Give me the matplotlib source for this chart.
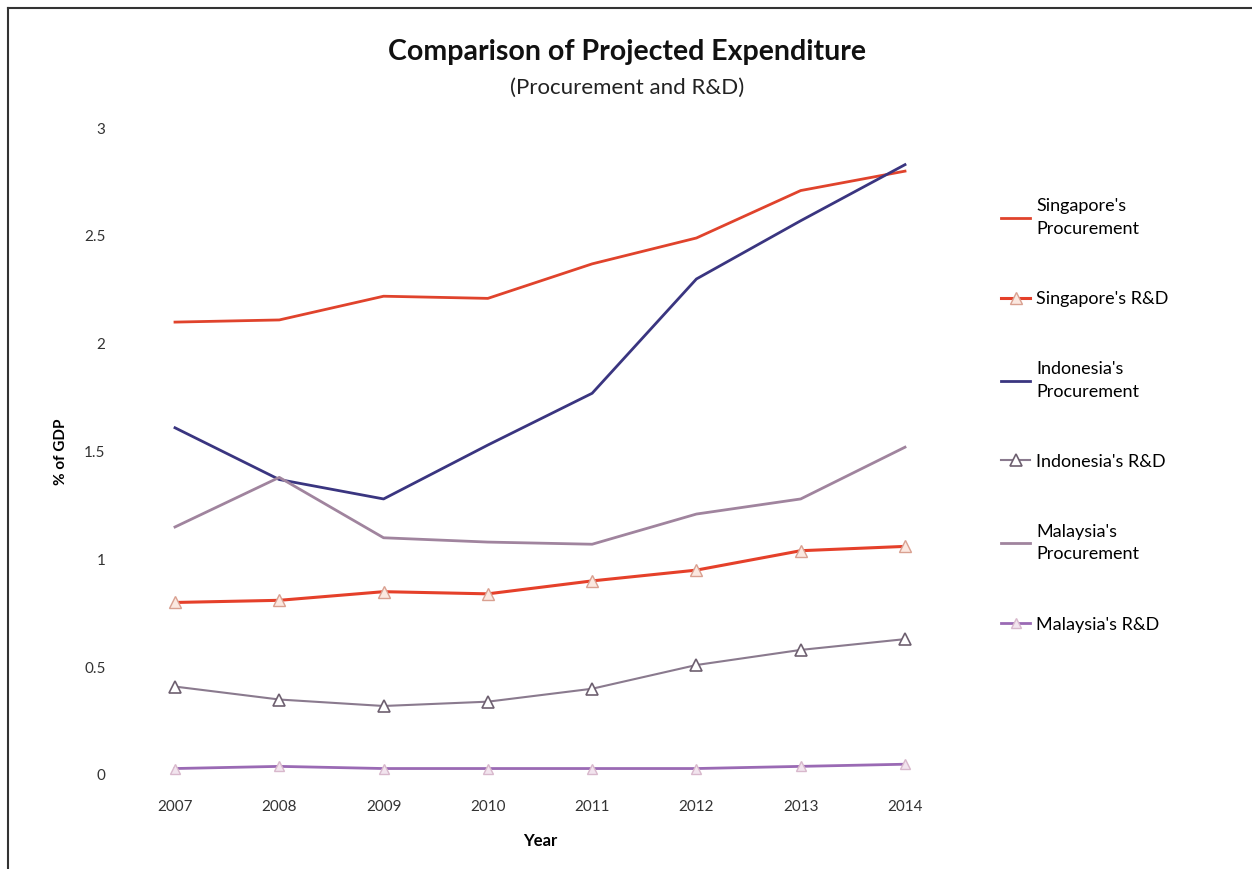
import numpy as np
import matplotlib.pyplot as plt
from matplotlib.lines import Line2D

plt.rcParams['font.family'] = ['Lato', 'DejaVu Sans']

years = [2007, 2008, 2009, 2010, 2011, 2012, 2013, 2014]
sg_proc = [2.10, 2.11, 2.22, 2.21, 2.37, 2.49, 2.71, 2.80]
sg_rd = [0.80, 0.81, 0.85, 0.84, 0.90, 0.95, 1.04, 1.06]
id_proc = [1.61, 1.37, 1.28, 1.53, 1.77, 2.30, 2.57, 2.83]
id_rd = [0.41, 0.35, 0.32, 0.34, 0.40, 0.51, 0.58, 0.63]
my_proc = [1.15, 1.38, 1.10, 1.08, 1.07, 1.21, 1.28, 1.52]
my_rd = [0.03, 0.04, 0.03, 0.03, 0.03, 0.03, 0.04, 0.05]
yticks = [0, 0.5, 1, 1.5, 2, 2.5, 3]
ytick_labels = ['0', '0.5', '1', '1.5', '2', '2.5', '3']

fig = plt.figure(figsize=(12.52, 8.69), dpi=100)
ax = fig.add_axes([175/1252, 1-775/869, 730/1252, 647/869])

ax.plot(years, sg_proc, color='#e0432c', lw=2, label="Singapore's\nProcurement", clip_on=False)
ax.plot(years, sg_rd, color='#e5402a', lw=2.2, marker='^', ms=8, mfc='#fbe8e0',
        mec='#d9a090', mew=1, label="Singapore's R&D", clip_on=False)
ax.plot(years, id_proc, color='#3a3580', lw=2, label="Indonesia's\nProcurement", clip_on=False)
ax.plot(years, id_rd, color='#8a7a8e', lw=1.5, marker='^', ms=8, mfc='white',
        mec='#6e6070', mew=1.2, label="Indonesia's R&D", clip_on=False)
ax.plot(years, my_proc, color='#a0849e', lw=2, label="Malaysia's\nProcurement", clip_on=False)
ax.plot(years, my_rd, color='#9a6ab4', lw=2, marker='^', ms=7, mfc='#f2e4ee',
        mec='#d8b8cc', mew=1, label="Malaysia's R&D", clip_on=False)

ax.set_xlim(2007, 2014)
ax.set_ylim(0, 3)
ax.set_xticks(years)
ax.set_xticklabels([str(y) for y in years], fontsize=11, color='#333333')
ax.set_yticks(yticks)
ax.set_yticklabels(ytick_labels, fontsize=11, color='#333333')
ax.tick_params(axis='y', length=0, pad=50)
ax.tick_params(axis='x', length=0, pad=18)
for s in ax.spines.values():
    s.set_visible(False)

ax.set_xlabel('Year', fontsize=12, fontweight='bold', labelpad=14)
ax.set_ylabel('% of GDP', fontsize=11, fontweight='bold', labelpad=12)

fig.text(627/1252, 1-52/869, 'Comparison of Projected Expenditure', ha='center', va='center',
         fontsize=20.5, fontweight='bold', color='#111111')
fig.text(627/1252, 1-88/869, '(Procurement and R&D)', ha='center', va='center',
         fontsize=16, color='#222222')

leg = fig.legend(loc='upper left', bbox_to_anchor=(985/1252, 1-182/869), frameon=False,
                 fontsize=13, labelspacing=3.0, handlelength=1.6, handletextpad=0.35)
for t in leg.get_texts():
    t.set_linespacing(1.5)

# frame on left and top
fig.add_artist(Line2D([8/1252, 8/1252], [0, 1-8/869], color='#333333', lw=1.5))
fig.add_artist(Line2D([8/1252, 1], [1-8/869, 1-8/869], color='#333333', lw=1.5))

fig.savefig('out.png', dpi=100)
